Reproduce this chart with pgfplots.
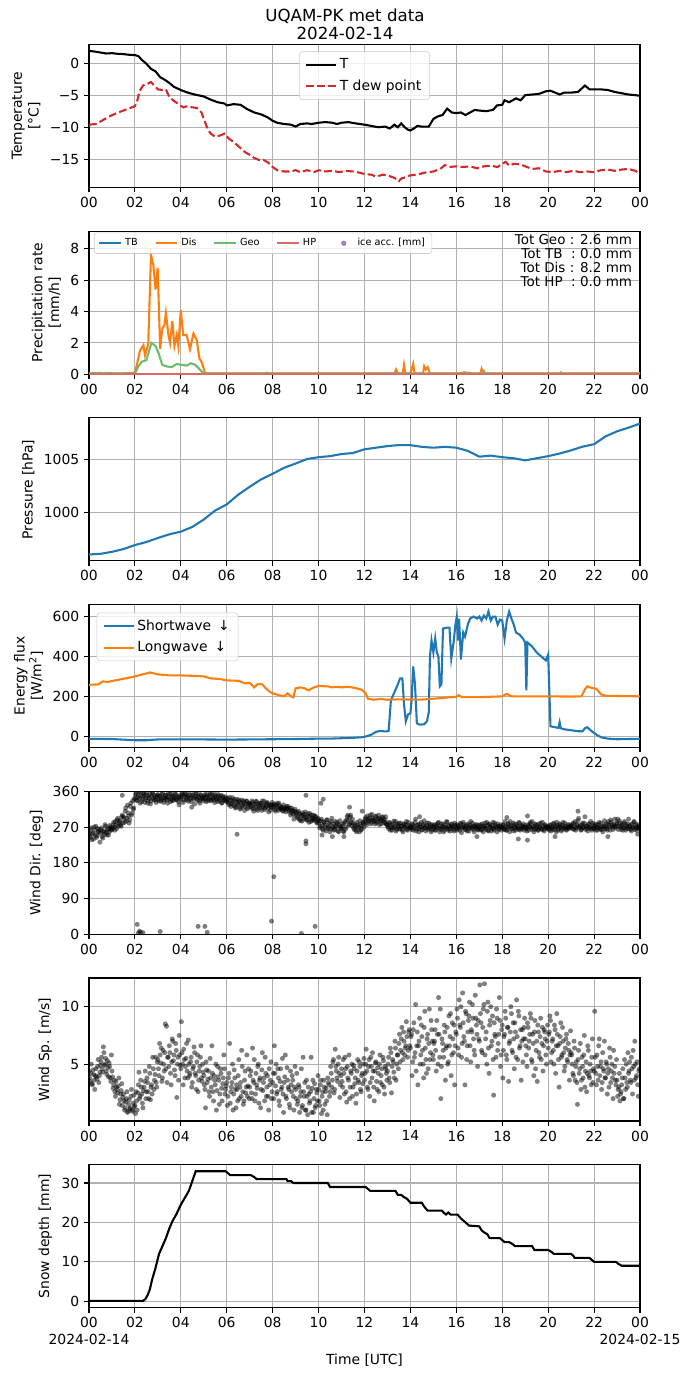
\documentclass[border=0pt]{standalone}
\usepackage{fontspec}
\setmainfont{DejaVu Sans}
\usepackage{pgfplots}
\usepackage{pgfplotstable}
\pgfplotsset{compat=1.18}
\definecolor{tabblue}{HTML}{1F77B4}
\definecolor{taborange}{HTML}{FF7F0E}
\definecolor{geogreen}{HTML}{6BBC6B}
\definecolor{hpred}{HTML}{E26868}
\definecolor{tabred}{HTML}{D62728}
\definecolor{tabpurple}{HTML}{9467BD}
\definecolor{gridgray}{HTML}{B0B0B0}
\pgfplotsset{
  base/.style={
    scale only axis, width=396.72pt, height=102.96pt,
    anchor=north west,
    xmin=0, xmax=24,
    xtick={0,2,...,24},
    xticklabels={00,02,04,06,08,10,12,14,16,18,20,22,00},
    grid=major,
    major grid style={gridgray, line width=0.8pt},
    axis line style={line width=0.8pt},
    tick align=outside, tick pos=left,
    major tick style={black, line width=0.8pt},
    major tick length=3.5pt,
    tick label style={font=\fontsize{10}{12}\selectfont},
    label style={font=\fontsize{10}{12}\selectfont},
    /pgf/number format/assume math mode=true,
    legend cell align=left,
    clip marker paths=true,
  },
  lline/.style={line width=1.5pt},
  scat/.style={only marks, mark=*, mark size=1.8pt, mark options={line width=0pt, draw opacity=0, fill=black, fill opacity=0.5}},
  biglegend/.style={legend style={draw=black!20, rounded corners=2pt, fill=white, fill opacity=0.8, text opacity=1, font=\fontsize{10}{12}\selectfont, row sep=2.6pt, inner xsep=4pt, inner ysep=3pt},
    legend image code/.code={\draw[##1] (0pt,0pt) -- (21.6pt,0pt);}},
}
\begin{document}
\begin{tikzpicture}
\useasboundingbox (0,0) rectangle (496.8pt,-991.44pt);
\node[anchor=base, font=\fontsize{12}{14}\selectfont] at (248.4pt,-15.6pt) {UQAM-PK met data};
\node[anchor=base, font=\fontsize{12}{14}\selectfont] at (248.4pt,-28.1pt) {2024-02-14};

% ---------------- Temperature
\begin{axis}[base, biglegend, at={(64.08pt,-32.04pt)},
  ymin=-19.3, ymax=3.0, ytick={-15,-10,-5,0}, yticklabels={−15,−10,−5,0},
  ylabel={Temperature\\{}[°C]}, ylabel style={align=center},
  legend style={at={(0.5,1)}, anchor=north, yshift=-5pt},
]
\addplot[lline, black] coordinates {
(0,2.0)(0.25,1.9)(0.5,1.75)(0.75,1.6)(1.0,1.65)(1.25,1.55)(1.5,1.5)(1.75,1.4)(2.0,1.35)(2.15,1.2)(2.3,0.6)(2.5,0.0)(2.7,-0.8)(2.9,-1.2)(3.1,-2.1)(3.3,-2.5)(3.5,-3.0)(3.7,-3.6)(4.0,-4.1)(4.3,-4.5)(4.6,-4.8)(5.0,-5.1)(5.3,-5.6)(5.6,-6.0)(5.9,-6.2)(6.0,-6.5)(6.3,-6.3)(6.6,-6.4)(6.9,-7.1)(7.2,-7.6)(7.5,-7.9)(7.8,-8.4)(8.0,-8.9)(8.2,-9.2)(8.5,-9.4)(8.8,-9.5)(9.0,-9.8)(9.2,-9.4)(9.5,-9.3)(9.7,-9.4)(10.0,-9.2)(10.3,-9.1)(10.6,-9.2)(10.8,-9.4)(11.0,-9.2)(11.3,-9.1)(11.6,-9.3)(12.0,-9.5)(12.3,-9.7)(12.6,-9.9)(12.9,-9.8)(13.1,-10.1)(13.3,-9.5)(13.45,-9.9)(13.6,-9.3)(13.75,-9.9)(13.9,-10.3)(14.0,-10.4)(14.15,-10.1)(14.3,-9.7)(14.5,-9.8)(14.8,-9.8)(15.0,-8.6)(15.2,-8.2)(15.4,-8.0)(15.6,-7.0)(15.8,-7.6)(16.0,-7.7)(16.2,-7.6)(16.4,-8.0)(16.6,-7.6)(16.8,-7.2)(17.0,-7.3)(17.3,-7.4)(17.6,-7.2)(17.77,-6.5)(18.0,-6.4)(18.1,-5.7)(18.3,-6.0)(18.6,-5.4)(18.8,-5.7)(19.0,-4.9)(19.3,-4.8)(19.6,-4.7)(19.9,-4.3)(20.1,-4.2)(20.3,-4.5)(20.5,-4.8)(20.7,-4.5)(21.0,-4.5)(21.3,-4.4)(21.6,-3.4)(21.8,-4.0)(22.0,-4.0)(22.3,-4.0)(22.6,-4.1)(22.9,-4.4)(23.2,-4.6)(23.5,-4.8)(23.8,-4.9)(24.0,-5.0)
};
\addlegendentry{T}
\addplot[lline, tabred, dash pattern=on 5.55pt off 2.4pt] coordinates {
(0,-9.5)(0.3,-9.4)(0.6,-8.8)(0.9,-8.2)(1.2,-7.7)(1.5,-7.3)(1.8,-6.9)(2.0,-6.6)(2.1,-5.8)(2.2,-4.3)(2.35,-3.4)(2.5,-3.2)(2.7,-2.85)(2.85,-3.4)(3.0,-4.0)(3.2,-4.1)(3.35,-4.0)(3.5,-5.2)(3.7,-5.8)(3.9,-6.3)(4.1,-6.8)(4.3,-6.6)(4.5,-6.8)(4.7,-6.9)(4.9,-7.6)(5.0,-8.6)(5.15,-10.0)(5.3,-10.9)(5.5,-11.4)(5.7,-11.2)(5.9,-10.9)(6.1,-11.7)(6.3,-12.2)(6.55,-13.0)(6.8,-13.8)(7.0,-14.2)(7.2,-14.7)(7.4,-15.0)(7.6,-15.0)(7.8,-15.4)(8.0,-16.1)(8.2,-16.6)(8.5,-16.8)(8.8,-16.8)(9.0,-16.6)(9.2,-16.9)(9.5,-16.6)(9.8,-16.9)(10.0,-16.6)(10.3,-16.8)(10.6,-16.7)(10.9,-16.9)(11.2,-16.7)(11.5,-16.8)(11.8,-17.0)(12.0,-17.2)(12.3,-17.3)(12.5,-17.6)(12.8,-17.3)(13.0,-17.4)(13.3,-17.8)(13.5,-18.3)(13.6,-17.9)(13.8,-17.7)(14.0,-17.4)(14.3,-17.3)(14.6,-17.0)(15.0,-16.8)(15.3,-16.4)(15.5,-15.8)(15.7,-16.1)(16.0,-16.0)(16.3,-16.1)(16.6,-16.0)(16.9,-16.3)(17.2,-16.0)(17.5,-15.9)(17.8,-16.1)(18.0,-15.6)(18.15,-15.3)(18.3,-15.9)(18.5,-15.6)(18.8,-15.7)(19.0,-16.0)(19.3,-16.4)(19.6,-16.3)(19.9,-16.8)(20.2,-16.9)(20.5,-16.7)(20.8,-16.9)(21.1,-16.7)(21.4,-16.9)(21.7,-16.8)(22.0,-16.9)(22.3,-16.6)(22.6,-16.5)(22.9,-16.7)(23.2,-16.5)(23.5,-16.4)(23.8,-16.7)(24.0,-17.2)
};
\addlegendentry{T dew point}
\end{axis}

% ---------------- Precipitation
\begin{axis}[base, at={(64.08pt,-166.46pt)},
  ymin=0, ymax=9.13, ytick={0,2,4,6,8}, yticklabels={0,2,4,6,8},
  ylabel={Precipitation rate\\{}[mm/h]}, ylabel style={align=center},
  legend columns=5,
  legend style={at={(0.009,0.99)}, anchor=north west, draw=black!20, rounded corners=2pt, fill=white, fill opacity=0.8, text opacity=1, font=\fontsize{7}{8}\selectfont, /tikz/every even column/.append style={column sep=10pt}},
  legend image code/.code={\draw[mark repeat=2, mark phase=2, #1] plot coordinates {(0pt,0pt) (7.9pt,0pt) (15.8pt,0pt)}; \path[draw=none, fill=none] (0pt,0pt) -- (15.8pt,0pt);},
]
\addplot[lline, tabblue] coordinates {(0,0)(24,0)};
\addlegendentry{TB}
\addplot[lline, taborange] coordinates {
(0,0.05)(0.5,0.05)(1,0.05)(1.5,0.05)(2.0,0.1)(2.07,0.5)(2.22,1.5)(2.37,1.85)(2.44,1.2)(2.58,1.9)(2.7,7.6)(2.8,7.0)(2.9,5.4)(2.99,6.8)(3.1,1.6)(3.19,2.9)(3.28,3.1)(3.35,3.9)(3.46,2.5)(3.53,2.0)(3.63,3.4)(3.72,1.8)(3.82,2.5)(3.89,1.8)(4.0,4.1)(4.1,2.5)(4.25,2.5)(4.4,1.6)(4.55,2.6)(4.69,2.2)(4.81,1.0)(4.9,0.8)(5.05,0.1)(5.16,0.05)(13.3,0.05)(13.38,0.3)(13.45,0.05)(13.67,0.05)(13.72,0.6)(13.78,0.05)(14.0,0.05)(14.05,0.3)(14.12,0.65)(14.18,0.05)(14.55,0.05)(14.6,0.5)(14.67,0.3)(14.75,0.45)(14.85,0.05)(16.0,0.05)(16.3,0.1)(16.5,0.1)(16.7,0.05)(17.05,0.05)(17.1,0.35)(17.18,0.05)(24,0.05)
};
\addlegendentry{Dis}
\addplot[lline, geogreen] coordinates {
(0,0.05)(0.5,0.08)(0.55,0.05)(1.0,0.08)(1.05,0.05)(2.0,0.05)(2.15,0.5)(2.3,0.8)(2.5,0.9)(2.6,1.4)(2.72,2.0)(2.9,1.8)(3.04,1.3)(3.19,0.6)(3.38,0.5)(3.6,0.45)(3.82,0.65)(4.03,0.6)(4.25,0.55)(4.44,0.7)(4.62,0.6)(4.8,0.35)(4.98,0.05)(7.7,0.05)(7.75,0.1)(7.8,0.05)(16.3,0.05)(16.35,0.12)(16.4,0.05)(17.15,0.05)(17.2,0.2)(17.25,0.05)(20.5,0.05)(20.55,0.12)(20.6,0.05)(24,0.05)
};
\addlegendentry{Geo}
\addplot[lline, hpred] coordinates {(0,0)(24,0)};
\addlegendentry{HP}
\addlegendimage{only marks, mark=*, mark size=1.6pt, color=tabpurple, mark options={fill=tabpurple, draw=tabpurple}}
\addlegendentry{ice acc. [mm]}
\node[anchor=north east, align=right, inner sep=0pt, font=\fontsize{9.7}{9.9}\selectfont] at (rel axis cs:0.986,0.976) {Tot Geo : 2.6 mm\\Tot TB\ \ : 0.0 mm\\Tot Dis : 8.2 mm\\Tot HP\ \ : 0.0 mm};
\end{axis}

% ---------------- Pressure
\begin{axis}[base, at={(64.08pt,-300.89pt)},
  ymin=995.38, ymax=1008.92, ytick={1000,1005}, yticklabels={1000,1005},
  ylabel={Pressure [hPa]},
]
\addplot[lline, tabblue] coordinates {
(0,995.99)(0.5,996.05)(1,996.24)(1.5,996.5)(2,996.88)(2.5,997.17)(3,997.55)(3.5,997.9)(4,998.15)(4.5,998.6)(5,999.3)(5.5,1000.16)(6,1000.73)(6.5,1001.65)(7,1002.4)(7.5,1003.1)(8,1003.63)(8.5,1004.2)(9,1004.6)(9.5,1005.03)(10,1005.2)(10.5,1005.3)(11,1005.5)(11.5,1005.6)(12,1005.95)(12.5,1006.1)(13,1006.25)(13.5,1006.35)(14,1006.34)(14.5,1006.18)(15,1006.1)(15.5,1006.18)(16,1006.1)(16.5,1005.8)(17,1005.25)(17.5,1005.35)(18,1005.2)(18.5,1005.1)(19,1004.9)(19.5,1005.1)(20,1005.3)(20.5,1005.55)(21,1005.85)(21.5,1006.2)(22,1006.43)(22.5,1007.17)(23,1007.65)(23.5,1008.0)(24,1008.38)
};
\end{axis}

% ---------------- Energy flux
\begin{axis}[base, biglegend, at={(64.08pt,-435.31pt)},
  ymin=-57, ymax=660, ytick={0,200,400,600}, yticklabels={0,200,400,600},
  ylabel={Energy flux\\{}[W/m\textsuperscript{2}]}, ylabel style={align=center},
  legend style={at={(0,1)}, anchor=north west, xshift=5.5pt, yshift=-5.8pt},
]
\addplot[lline, tabblue] coordinates {
(0,-13)(1,-14)(2,-20)(2.5,-20)(3,-16)(4,-16)(5,-16)(6,-17)(7,-16)(8,-15)(9,-14)(10,-12)(10.5,-12)(11,-10)(11.5,-8)(11.9,-5)(12.1,0)(12.3,8)(12.5,22)(12.7,27)(12.9,24)(13.05,26)(13.15,180)(13.3,220)(13.45,260)(13.55,290)(13.65,290)(13.72,160)(13.8,75)(13.9,110)(14.0,115)(14.05,180)(14.12,350)(14.2,260)(14.28,65)(14.4,58)(14.6,60)(14.72,75)(14.8,120)(14.85,400)(14.92,480)(15.0,420)(15.08,490)(15.15,420)(15.22,400)(15.28,250)(15.35,260)(15.42,540)(15.6,545)(15.7,545)(15.78,390)(15.88,470)(15.96,560)(16.02,600)(16.08,480)(16.12,590)(16.2,385)(16.3,520)(16.38,500)(16.5,560)(16.6,590)(16.75,600)(16.9,590)(17.0,600)(17.1,580)(17.2,605)(17.3,590)(17.4,625)(17.5,580)(17.6,600)(17.7,600)(17.8,560)(17.9,585)(18.0,580)(18.1,490)(18.2,580)(18.3,625)(18.4,590)(18.5,560)(18.6,520)(18.75,510)(18.9,490)(19.0,470)(19.05,230)(19.1,470)(19.3,450)(19.5,420)(19.7,400)(19.9,380)(20.0,410)(20.05,230)(20.1,50)(20.3,45)(20.45,42)(20.5,70)(20.55,40)(20.7,35)(21.0,30)(21.3,25)(21.5,25)(21.6,40)(21.7,45)(21.9,25)(22.1,8)(22.3,-5)(22.6,-12)(23,-15)(23.5,-14)(24,-13)
};
\addlegendentry{Shortwave\enspace↓}
\addplot[lline, taborange] coordinates {
(0,258)(0.4,260)(0.6,275)(0.8,272)(1.0,277)(1.5,288)(2.0,300)(2.5,315)(2.65,320)(3.0,310)(3.5,305)(4.0,305)(4.5,303)(5.0,300)(5.3,290)(5.7,287)(6.0,280)(6.5,278)(6.8,265)(7.0,268)(7.2,245)(7.35,262)(7.55,260)(7.7,240)(7.85,225)(8.0,215)(8.3,205)(8.5,200)(8.65,215)(8.8,200)(8.9,195)(9.0,240)(9.2,245)(9.4,240)(9.55,230)(9.8,245)(10.0,252)(10.4,250)(10.6,245)(10.8,248)(11.0,245)(11.3,248)(11.6,242)(11.9,232)(12.05,215)(12.15,188)(12.4,183)(12.7,187)(13.0,183)(13.5,185)(14.0,184)(14.5,184)(15.0,188)(15.5,193)(16.0,198)(16.1,206)(16.25,196)(17.0,196)(17.5,198)(18.0,200)(18.2,213)(18.4,200)(19.0,200)(20.0,200)(21.0,199)(21.45,200)(21.6,235)(21.7,250)(21.9,242)(22.1,238)(22.3,210)(22.5,203)(23.0,202)(24.0,200)
};
\addlegendentry{Longwave\enspace↓}
\end{axis}

% ---------------- Wind direction
\begin{axis}[base, at={(64.08pt,-569.74pt)},
  ymin=0, ymax=360, ytick={0,90,180,270,360}, yticklabels={0,90,180,270,360},
  ylabel={Wind Dir. [deg]},
]
\addplot[scat] table[row sep=\\, header=false, x expr=\coordindex*0.05+0.025, y index=0] {
248\\262\\238\\255\\270\\250\\244\\266\\258\\232\\262\\246\\258\\252\\272\\250\\266\\258\\270\\262\\
268\\282\\262\\276\\288\\272\\284\\275\\296\\280\\292\\310\\285\\325\\298\\288\\330\\305\\315\\340\\
352\\338\\345\\358\\330\\348\\340\\355\\332\\344\\350\\336\\342\\328\\348\\355\\338\\345\\332\\350\\
340\\348\\335\\352\\344\\338\\350\\342\\330\\346\\354\\340\\336\\348\\343\\352\\338\\345\\326\\350\\
346\\352\\338\\355\\342\\348\\335\\350\\344\\320\\352\\340\\346\\356\\338\\345\\330\\350\\342\\336\\
348\\340\\352\\336\\345\\355\\338\\342\\350\\332\\346\\340\\352\\336\\344\\330\\348\\338\\342\\335\\
338\\330\\345\\322\\336\\328\\340\\318\\332\\325\\338\\315\\330\\322\\336\\312\\328\\335\\320\\330\\
326\\318\\332\\310\\325\\335\\315\\328\\320\\330\\312\\325\\335\\318\\322\\330\\308\\326\\320\\332\\
322\\328\\310\\325\\318\\330\\316\\320\\312\\326\\316\\308\\318\\322\\312\\300\\318\\310\\290\\315\\
305\\296\\310\\290\\302\\285\\300\\295\\308\\288\\298\\282\\304\\292\\286\\300\\290\\296\\280\\292\\
285\\272\\290\\265\\282\\276\\260\\288\\270\\280\\265\\292\\272\\262\\284\\270\\278\\258\\286\\268\\
272\\260\\280\\265\\288\\300\\275\\295\\282\\290\\268\\276\\262\\282\\270\\258\\276\\265\\282\\270\\
290\\280\\298\\285\\292\\278\\302\\288\\284\\296\\280\\290\\300\\286\\278\\294\\288\\282\\296\\275\\
270\\282\\262\\276\\268\\285\\272\\260\\278\\270\\265\\280\\272\\258\\276\\268\\284\\262\\274\\270\\
268\\278\\262\\272\\290\\265\\276\\258\\270\\282\\264\\274\\268\\260\\280\\270\\266\\276\\262\\272\\
270\\262\\276\\268\\282\\258\\272\\266\\278\\262\\270\\284\\266\\274\\260\\276\\270\\264\\280\\268\\
262\\274\\268\\280\\256\\270\\276\\264\\272\\260\\278\\268\\284\\266\\272\\258\\276\\270\\264\\274\\
270\\264\\278\\258\\272\\268\\282\\262\\276\\270\\260\\274\\266\\280\\270\\258\\272\\266\\276\\262\\
274\\266\\284\\262\\270\\278\\258\\272\\266\\280\\270\\262\\276\\268\\282\\262\\272\\266\\278\\270\\
268\\260\\276\\272\\282\\264\\270\\258\\278\\266\\274\\262\\270\\280\\264\\272\\260\\276\\268\\272\\
266\\274\\260\\270\\278\\264\\272\\282\\262\\270\\276\\260\\274\\268\\280\\264\\270\\266\\276\\272\\
270\\278\\264\\284\\268\\274\\292\\270\\262\\276\\268\\280\\264\\272\\260\\276\\270\\266\\280\\268\\
272\\262\\276\\268\\282\\264\\270\\258\\274\\266\\278\\262\\284\\270\\288\\276\\264\\272\\268\\280\\
290\\272\\280\\264\\276\\268\\284\\262\\272\\278\\266\\274\\260\\270\\282\\264\\276\\268\\272\\265\\
};
\addplot[scat] table[row sep=\\, header=false, x expr=\coordindex*0.05, y index=0] {
256\\244\\268\\252\\240\\262\\272\\248\\258\\264\\254\\268\\242\\260\\276\\256\\262\\250\\274\\266\\
264\\276\\270\\284\\266\\292\\278\\286\\272\\300\\296\\282\\318\\292\\306\\280\\322\\300\\336\\318\\
344\\356\\336\\350\\342\\358\\334\\348\\352\\340\\356\\330\\346\\352\\336\\358\\342\\350\\338\\346\\
352\\336\\346\\340\\356\\332\\344\\350\\338\\354\\342\\334\\352\\346\\338\\356\\340\\348\\334\\344\\
340\\356\\332\\348\\352\\338\\346\\358\\340\\334\\350\\344\\328\\354\\342\\348\\336\\352\\340\\346\\
342\\352\\334\\346\\340\\350\\336\\354\\344\\338\\352\\342\\334\\348\\340\\350\\332\\344\\338\\346\\
334\\342\\326\\338\\330\\344\\324\\336\\320\\340\\328\\334\\318\\338\\326\\332\\322\\336\\316\\328\\
330\\322\\336\\316\\328\\320\\334\\312\\324\\330\\318\\336\\322\\314\\328\\332\\318\\324\\312\\326\\
318\\326\\314\\322\\330\\312\\324\\316\\320\\310\\318\\314\\322\\316\\310\\318\\306\\312\\302\\310\\
300\\308\\292\\304\\286\\298\\306\\290\\302\\294\\288\\304\\296\\284\\300\\292\\288\\298\\284\\290\\
280\\268\\286\\274\\262\\282\\270\\288\\266\\276\\258\\284\\268\\278\\264\\272\\282\\260\\276\\270\\
266\\278\\258\\284\\270\\296\\286\\278\\300\\274\\280\\264\\272\\258\\276\\268\\286\\262\\274\\280\\
284\\294\\276\\290\\286\\300\\282\\292\\288\\278\\298\\284\\292\\276\\290\\286\\296\\280\\288\\278\\
276\\266\\280\\270\\262\\278\\268\\284\\264\\274\\280\\266\\272\\262\\278\\270\\276\\264\\282\\268\\
272\\264\\276\\268\\282\\260\\274\\266\\278\\270\\262\\276\\286\\268\\274\\264\\280\\270\\258\\276\\
266\\276\\262\\272\\280\\268\\264\\278\\270\\258\\274\\268\\282\\262\\272\\266\\278\\270\\260\\274\\
276\\266\\272\\262\\278\\268\\282\\270\\264\\276\\268\\260\\274\\270\\280\\264\\272\\268\\276\\262\\
266\\276\\262\\272\\268\\280\\264\\274\\260\\278\\270\\266\\282\\262\\274\\268\\278\\264\\272\\270\\
268\\276\\264\\272\\262\\278\\270\\284\\266\\274\\260\\278\\268\\272\\264\\280\\266\\274\\270\\262\\
274\\266\\270\\262\\278\\268\\284\\272\\264\\276\\268\\262\\278\\270\\266\\282\\264\\274\\270\\266\\
270\\262\\276\\268\\264\\280\\270\\258\\274\\266\\278\\270\\264\\282\\268\\272\\262\\276\\270\\268\\
274\\266\\280\\270\\262\\276\\286\\268\\274\\264\\280\\270\\296\\272\\266\\278\\268\\284\\262\\274\\
266\\278\\270\\262\\276\\268\\280\\264\\272\\286\\270\\266\\278\\274\\262\\282\\270\\276\\290\\272\\
278\\264\\286\\270\\274\\262\\280\\268\\276\\266\\290\\272\\264\\278\\268\\284\\270\\262\\276\\270\\
};
\addplot[scat] coordinates {
(2.1,25)(2.15,3)(2.2,8)(2.25,5)(2.35,4)(3.1,7)(4.75,20)(5.05,20)(5.15,5)(7.95,33)(8.05,145)(9.25,2)(9.85,20)(6.45,252)(9.45,235)(9.45,228)(10.15,250)(11.35,320)(10.1,330)(10.2,340)(9.45,350)(1.45,350)(10.6,246)(11.1,246)(19.1,237)(18.7,240)(11.9,310)(21.3,310)(14.4,296)(16.9,246)(18.2,294)(19.1,298)(20.3,246)(22.6,246)(23.9,252)
};
\end{axis}

% ---------------- Wind speed
\begin{axis}[base, at={(64.08pt,-704.16pt)},
  ymin=0.05, ymax=12.5, ytick={5,10}, yticklabels={5,10},
  ylabel={Wind Sp. [m/s]},
]
\addplot[scat] table[row sep=\\, header=false, x expr=\coordindex*0.05+0.025, y index=0] {
3.8\\4.2\\3.3\\4.5\\3.6\\4.0\\3.9\\4.8\\3.4\\4.3\\5.2\\4.6\\6.5\\4.9\\5.5\\4.1\\4.7\\5.1\\3.8\\5.8\\
3.9\\3.2\\2.6\\3.5\\2.8\\3.1\\1.5\\2.4\\3.3\\2.1\\1.8\\1.2\\2.0\\0.8\\1.5\\1.1\\2.2\\0.9\\1.6\\1.3\\
0.7\\1.8\\2.5\\4.3\\2.2\\3.0\\1.6\\2.7\\3.5\\2.0\\3.8\\2.6\\4.8\\1.9\\3.2\\5.6\\2.8\\4.1\\3.4\\5.2\\
4.6\\6.8\\5.1\\3.5\\6.2\\4.4\\8.5\\8.3\\5.6\\4.8\\6.0\\3.2\\7.2\\5.3\\4.5\\6.8\\2.1\\5.6\\7.5\\4.9\\
8.7\\5.0\\6.3\\3.8\\5.5\\4.4\\7.1\\4.0\\5.2\\3.0\\4.6\\6.5\\4.2\\2.8\\5.8\\3.6\\4.8\\6.6\\3.5\\4.3\\
3.2\\1.2\\4.5\\3.7\\2.6\\5.5\\3.0\\4.2\\1.8\\3.6\\5.0\\2.7\\3.9\\1.5\\4.6\\2.9\\3.3\\5.8\\2.4\\3.1\\
1.4\\3.8\\6.8\\2.6\\3.4\\1.0\\4.5\\2.8\\3.2\\1.8\\5.4\\3.0\\2.2\\4.8\\1.5\\3.6\\2.5\\5.8\\3.1\\2.0\\
4.0\\2.5\\6.4\\3.4\\1.8\\4.2\\2.9\\5.0\\3.6\\1.2\\4.5\\2.7\\3.8\\5.6\\2.2\\4.0\\1.0\\3.2\\5.2\\2.6\\
4.2\\6.6\\3.1\\2.4\\4.6\\1.8\\3.5\\2.8\\5.5\\0.8\\3.9\\2.2\\4.7\\3.0\\1.5\\4.4\\2.6\\3.6\\1.0\\4.8\\
2.0\\1.5\\3.2\\0.8\\2.6\\1.2\\5.6\\2.2\\1.0\\3.6\\0.6\\2.4\\1.8\\5.6\\2.9\\0.8\\3.3\\1.4\\2.5\\4.0\\
1.8\\3.2\\0.7\\2.6\\3.6\\1.5\\2.9\\0.6\\3.4\\2.2\\4.8\\3.0\\5.2\\2.5\\6.3\\4.4\\3.5\\5.6\\2.1\\4.0\\
3.5\\5.4\\2.4\\4.6\\1.7\\3.8\\5.8\\3.0\\4.2\\2.2\\4.9\\3.3\\1.6\\4.4\\3.6\\5.2\\2.8\\4.0\\3.3\\5.5\\
4.2\\6.3\\3.0\\4.8\\2.2\\5.6\\3.8\\4.4\\1.8\\5.1\\3.5\\4.7\\2.6\\5.8\\4.0\\3.2\\5.3\\2.4\\4.6\\3.6\\
5.0\\3.8\\6.4\\2.5\\5.4\\4.3\\7.0\\3.6\\5.8\\4.6\\7.6\\6.2\\8.2\\5.4\\7.0\\6.4\\8.7\\5.6\\7.8\\6.6\\
7.4\\4.0\\8.0\\5.6\\10.2\\6.6\\3.2\\7.0\\5.0\\8.4\\6.2\\3.8\\9.6\\5.4\\7.2\\4.6\\9.8\\6.0\\8.0\\5.8\\
6.8\\8.0\\4.4\\7.6\\10.8\\5.6\\2.0\\7.2\\6.2\\8.4\\3.6\\6.6\\5.0\\9.2\\7.4\\4.0\\8.6\\6.0\\3.2\\7.8\\
9.8\\6.4\\10.6\\8.2\\5.6\\11.2\\7.4\\3.2\\9.4\\6.6\\8.8\\10.4\\5.2\\7.8\\9.0\\6.2\\11.0\\8.4\\4.8\\7.2\\
11.9\\8.6\\6.0\\9.8\\12.0\\7.2\\5.0\\10.4\\4.2\\8.8\\6.6\\9.2\\2.3\\7.6\\5.6\\9.0\\6.8\\10.8\\4.8\\8.0\\
3.8\\7.4\\9.6\\5.8\\8.2\\3.5\\7.0\\10.0\\6.2\\8.6\\4.6\\7.8\\10.6\\5.4\\9.2\\6.6\\3.6\\8.0\\7.2\\9.0\\
6.6\\4.8\\8.2\\7.0\\9.4\\5.4\\7.6\\4.0\\8.8\\6.2\\3.5\\7.8\\5.6\\9.0\\6.8\\4.4\\8.0\\7.2\\5.0\\8.4\\
7.6\\9.2\\5.2\\7.0\\6.2\\8.4\\4.2\\9.4\\6.6\\3.0\\7.4\\5.6\\8.2\\6.0\\4.8\\7.2\\5.4\\6.8\\3.6\\7.9\\
5.8\\4.2\\7.0\\3.6\\5.2\\1.5\\6.2\\4.6\\2.8\\5.6\\3.8\\7.5\\4.4\\2.6\\6.6\\4.0\\5.0\\3.2\\7.2\\4.6\\
9.6\\4.2\\5.8\\3.6\\7.2\\4.8\\2.8\\6.0\\4.4\\3.8\\5.2\\2.4\\4.6\\6.4\\3.4\\5.0\\2.0\\4.2\\3.6\\5.4\\
2.2\\3.0\\1.8\\2.6\\3.8\\2.0\\5.4\\2.8\\3.4\\6.0\\4.4\\3.6\\5.6\\2.4\\4.8\\7.0\\3.8\\5.2\\2.2\\4.6\\
};
\addplot[scat] table[row sep=\\, header=false, x expr=\coordindex*0.05, y index=0] {
4.4\\3.5\\5.0\\3.2\\4.1\\2.8\\4.6\\3.7\\5.4\\4.0\\4.9\\5.6\\4.3\\6.0\\5.0\\4.4\\5.3\\3.9\\4.8\\3.5\\
4.4\\2.9\\3.6\\2.2\\3.0\\2.5\\3.8\\1.9\\2.7\\1.4\\2.4\\1.0\\1.7\\2.6\\0.9\\1.9\\1.2\\2.8\\1.0\\2.3\\
1.4\\2.6\\1.0\\3.2\\2.0\\3.6\\2.4\\1.2\\3.0\\4.4\\2.6\\3.4\\2.0\\4.2\\3.0\\2.4\\4.6\\3.6\\5.6\\3.0\\
5.4\\4.0\\5.8\\6.4\\3.8\\5.0\\6.0\\4.6\\3.4\\5.6\\6.6\\4.2\\5.2\\7.0\\5.8\\4.0\\6.2\\5.0\\3.6\\5.8\\
4.6\\6.0\\3.2\\5.4\\4.8\\6.8\\3.8\\5.0\\4.2\\5.6\\3.4\\4.8\\6.0\\4.0\\5.2\\2.6\\4.4\\5.6\\3.8\\5.0\\
4.0\\2.8\\5.2\\3.4\\4.4\\2.2\\3.8\\6.6\\2.6\\4.0\\3.2\\1.0\\4.8\\3.6\\2.4\\4.2\\1.8\\3.8\\4.6\\2.8\\
3.4\\2.2\\4.2\\1.6\\3.0\\5.0\\2.4\\3.8\\1.2\\2.8\\4.0\\2.0\\3.4\\6.2\\2.6\\1.8\\4.4\\3.0\\2.2\\4.6\\
3.0\\4.4\\2.0\\3.6\\5.4\\2.4\\3.2\\4.8\\1.6\\3.8\\2.8\\6.0\\3.4\\1.8\\4.2\\3.0\\2.2\\4.6\\3.6\\2.0\\
3.4\\2.0\\4.2\\5.0\\2.6\\3.8\\1.4\\4.6\\3.0\\2.4\\3.4\\5.8\\2.0\\3.6\\2.8\\1.2\\3.2\\4.0\\2.2\\3.0\\
2.8\\4.2\\1.8\\3.0\\2.2\\4.6\\1.4\\2.6\\3.4\\1.0\\2.2\\3.0\\1.6\\2.6\\0.8\\3.6\\2.0\\1.2\\2.8\\1.8\\
2.8\\1.4\\3.6\\2.2\\1.0\\3.0\\2.6\\1.8\\3.8\\3.2\\2.6\\4.2\\3.6\\5.4\\2.8\\4.8\\3.8\\5.0\\4.2\\3.2\\
4.6\\3.0\\4.2\\5.6\\2.6\\4.8\\3.6\\2.0\\4.4\\5.0\\3.0\\4.6\\3.8\\2.4\\5.4\\3.4\\4.8\\2.6\\4.2\\5.0\\
3.6\\5.0\\4.4\\2.8\\5.4\\3.4\\4.8\\6.0\\3.0\\4.4\\5.2\\2.8\\4.2\\5.0\\3.4\\4.6\\5.6\\3.0\\4.8\\4.2\\
4.4\\5.6\\3.4\\6.0\\4.8\\5.2\\3.8\\6.4\\5.0\\5.8\\6.8\\5.2\\7.2\\6.0\\7.8\\5.8\\6.6\\7.4\\6.2\\8.0\\
6.4\\7.6\\5.2\\8.6\\6.0\\4.4\\7.8\\6.6\\9.0\\5.8\\7.4\\5.0\\8.2\\6.4\\4.2\\7.6\\6.8\\5.4\\8.8\\7.0\\
5.4\\7.0\\6.2\\8.8\\5.0\\7.6\\9.8\\4.8\\6.8\\5.6\\7.8\\6.4\\8.2\\5.2\\6.6\\9.4\\5.8\\7.2\\8.4\\6.6\\
7.6\\9.0\\5.8\\8.4\\10.0\\6.8\\8.6\\7.0\\9.6\\5.4\\7.8\\9.2\\6.6\\8.0\\10.2\\7.2\\5.8\\9.0\\7.6\\8.8\\
7.0\\9.4\\6.2\\8.2\\10.2\\5.8\\7.8\\9.6\\6.4\\8.4\\10.0\\7.0\\5.4\\8.6\\7.4\\9.8\\6.2\\7.6\\8.8\\5.8\\
8.4\\6.2\\7.6\\9.0\\5.4\\8.2\\6.8\\7.8\\9.4\\6.0\\7.2\\8.6\\5.6\\7.4\\9.6\\6.4\\8.0\\7.0\\5.2\\8.2\\
7.2\\5.8\\8.6\\6.4\\7.6\\9.0\\5.2\\6.8\\7.8\\4.6\\7.0\\8.4\\6.0\\7.4\\5.4\\8.2\\6.6\\7.8\\5.8\\7.0\\
6.4\\7.8\\8.8\\6.0\\7.2\\5.0\\8.0\\6.6\\7.6\\5.4\\6.8\\8.6\\5.8\\7.0\\4.4\\6.4\\7.6\\5.2\\6.2\\5.8\\
6.0\\5.0\\4.0\\6.4\\4.8\\3.4\\5.4\\4.2\\6.8\\3.6\\4.8\\5.8\\3.0\\5.2\\4.2\\6.2\\3.8\\4.4\\5.6\\3.4\\
4.4\\5.6\\3.2\\4.8\\6.6\\4.0\\5.2\\3.4\\4.6\\7.0\\3.8\\5.0\\4.2\\3.0\\5.6\\4.4\\3.8\\6.2\\4.8\\3.2\\
3.6\\2.8\\4.2\\2.4\\3.2\\4.6\\2.0\\3.8\\5.0\\3.0\\4.2\\5.2\\3.4\\4.6\\6.2\\3.6\\5.0\\4.0\\3.2\\4.4\\
};
\end{axis}

% ---------------- Snow depth
\begin{axis}[base, at={(64.08pt,-838.58pt)},
  ymin=-1.65, ymax=34.65, ytick={0,10,20,30}, yticklabels={0,10,20,30},
  ylabel={Snow depth [mm]},
  xticklabels={{00\\2024-02-14},02,04,06,08,10,12,14,16,18,20,22,{00\\2024-02-15}},
  xticklabel style={align=center},
  xlabel={Time [UTC]},
]
\addplot[lline, black] coordinates {
(0,0.1)(2.35,0.1)(2.45,0.5)(2.55,1.5)(2.65,3)(2.75,5.5)(2.9,8.5)(3.05,12)(3.2,14)(3.35,16)(3.5,18.5)(3.65,20.5)(3.8,22)(4.0,24.5)(4.2,26.5)(4.35,28)(4.5,30.5)(4.65,33)(4.75,33)(5.95,33)(6.05,32.5)(6.15,32)(7.05,32)(7.2,31.5)(7.3,31)(8.6,31)(8.65,30.5)(8.8,30.5)(8.9,30)(10.4,30)(10.5,29)(12.05,29)(12.15,28.5)(12.25,28)(13.35,28)(13.45,27)(13.6,27)(13.7,26.5)(13.85,26)(14.0,25)(14.5,25)(14.6,24)(14.75,23)(15.37,23)(15.45,22.5)(15.55,22)(15.65,22.5)(15.75,22)(16.05,22)(16.2,21)(16.4,20)(16.55,19.2)(17.0,19)(17.1,18)(17.2,17.5)(17.35,17)(17.45,16)(17.9,16)(18.0,15.5)(18.1,15)(18.3,15)(18.45,14.5)(18.55,14)(19.3,14)(19.4,13)(20.0,13)(20.15,12.5)(20.25,12)(21.0,12)(21.1,11.5)(21.15,11)(21.8,11)(21.9,10.5)(22.0,10)(22.95,10)(23.05,9.5)(23.2,9)(24,9)
};
\end{axis}
\end{tikzpicture}
\end{document}
